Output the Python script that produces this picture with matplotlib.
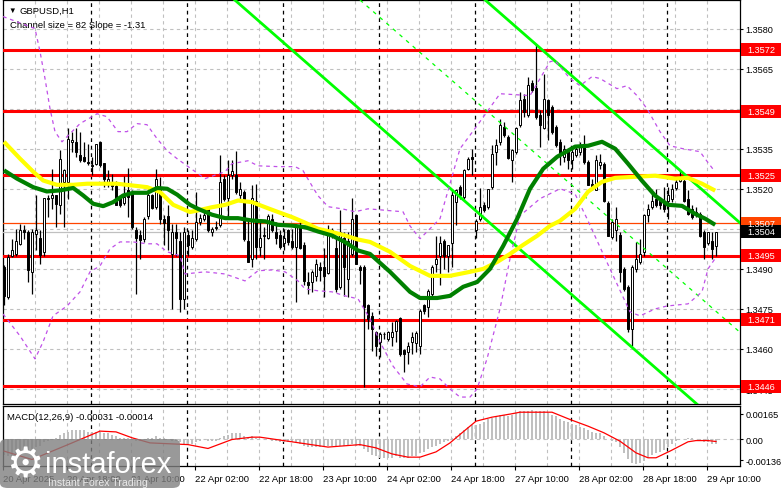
import matplotlib
matplotlib.use('Agg')
import matplotlib.pyplot as plt
import matplotlib.transforms as mtransforms
from matplotlib.patches import Rectangle, FancyBboxPatch
import numpy as np

plt.rcParams['font.family'] = ['Liberation Sans', 'DejaVu Sans']
plt.rcParams['font.size'] = 6.8

# GBPUSD H1 candles, bar 0 = 20 Apr 02:00 ... bar 178 = 29 Apr 12:00
opens = [1.34906, 1.34794, 1.34950, 1.34956, 1.34994, 1.35044, 1.35038, 1.34888, 1.35031, 1.35015,
         1.34963, 1.35165, 1.35165, 1.35175, 1.35138, 1.35225, 1.35225, 1.35375, 1.35375, 1.35328,
         1.35319, 1.35300, 1.35288, 1.35294, 1.35375, 1.35298, 1.35219, 1.35219, 1.35210, 1.35165,
         1.35148, 1.35194, 1.35188, 1.35044, 1.35028, 1.35013, 1.35098, 1.35175, 1.35131, 1.35206,
         1.35088, 1.35098, 1.34956, 1.35040, 1.35006, 1.34788, 1.35028, 1.34981, 1.35013, 1.35075,
         1.35088, 1.35128, 1.35038, 1.35053, 1.35063, 1.35238, 1.35165, 1.35253, 1.35253, 1.35175,
         1.35188, 1.35006, 1.34938, 1.35156, 1.34981, 1.35025, 1.35015, 1.35085, 1.35040, 1.35028,
         1.34998, 1.35044, 1.35006, 1.34981, 1.35063, 1.34988, 1.34850, 1.34850, 1.34875, 1.34906,
         1.34906, 1.34885, 1.35025, 1.34978, 1.34831, 1.35015, 1.34863, 1.34956, 1.35100, 1.34906,
         1.34906, 1.34763, 1.34725, 1.34665, 1.34625, 1.34656, 1.34638, 1.34644, 1.34669, 1.34715,
         1.34598, 1.34588, 1.34625, 1.34623, 1.34613, 1.34763, 1.34756, 1.34806, 1.34919, 1.34950,
         1.35006, 1.34950, 1.34998, 1.35150, 1.35206, 1.35169, 1.35275, 1.35319, 1.35044, 1.35088,
         1.35138, 1.35131, 1.35206, 1.35338, 1.35375, 1.35431, 1.35394, 1.35306, 1.35338, 1.35440,
         1.35538, 1.35475, 1.35598, 1.35578, 1.35475, 1.35428, 1.35531, 1.35506, 1.35431, 1.35375,
         1.35319, 1.35344, 1.35306, 1.35328, 1.35338, 1.35363, 1.35300, 1.35219, 1.35194, 1.35288,
         1.35294, 1.35148, 1.35019, 1.35044, 1.35028, 1.34898, 1.34831, 1.34675, 1.34898, 1.34925,
         1.34963, 1.35100, 1.35131, 1.35163, 1.35160, 1.35156, 1.35156, 1.35163, 1.35203, 1.35231,
         1.35231, 1.35163, 1.35125, 1.35113, 1.35106, 1.35038, 1.34998, 1.35006, 1.34985]
highs = [1.34913, 1.34956, 1.35013, 1.35050, 1.35069, 1.35063, 1.35044, 1.35050, 1.35178, 1.35044,
         1.35165, 1.35178, 1.35273, 1.35178, 1.35344, 1.35275, 1.35428, 1.35413, 1.35428, 1.35413,
         1.35375, 1.35369, 1.35319, 1.35369, 1.35378, 1.35298, 1.35269, 1.35256, 1.35228, 1.35175,
         1.35248, 1.35278, 1.35194, 1.35056, 1.35044, 1.35094, 1.35206, 1.35181, 1.35275, 1.35244,
         1.35100, 1.35138, 1.35069, 1.35069, 1.35038, 1.35056, 1.35044, 1.35044, 1.35188, 1.35106,
         1.35125, 1.35131, 1.35056, 1.35081, 1.35325, 1.35250, 1.35306, 1.35306, 1.35340, 1.35225,
         1.35194, 1.35088, 1.35213, 1.35219, 1.35088, 1.35056, 1.35106, 1.35106, 1.35075, 1.35044,
         1.35050, 1.35050, 1.35050, 1.35069, 1.35081, 1.35000, 1.34888, 1.34894, 1.34938, 1.34925,
         1.34978, 1.35063, 1.35053, 1.35019, 1.35119, 1.35038, 1.35038, 1.35165, 1.35106, 1.34913,
         1.34913, 1.34769, 1.34738, 1.34669, 1.34663, 1.34665, 1.34669, 1.34700, 1.34710, 1.34719,
         1.34600, 1.34625, 1.34663, 1.34669, 1.34750, 1.34770, 1.34825, 1.34913, 1.35025, 1.35025,
         1.35013, 1.34988, 1.35194, 1.35200, 1.35213, 1.35275, 1.35319, 1.35350, 1.35088, 1.35203,
         1.35150, 1.35200, 1.35363, 1.35388, 1.35463, 1.35450, 1.35400, 1.35350, 1.35431, 1.35563,
         1.35556, 1.35619, 1.35606, 1.35744, 1.35494, 1.35631, 1.35538, 1.35513, 1.35438, 1.35388,
         1.35363, 1.35350, 1.35356, 1.35363, 1.35375, 1.35400, 1.35306, 1.35238, 1.35325, 1.35331,
         1.35300, 1.35156, 1.35088, 1.35131, 1.35038, 1.34906, 1.34838, 1.34913, 1.35000, 1.35013,
         1.35106, 1.35144, 1.35188, 1.35198, 1.35169, 1.35206, 1.35206, 1.35219, 1.35238, 1.35269,
         1.35244, 1.35194, 1.35138, 1.35131, 1.35113, 1.35044, 1.35040, 1.35038, 1.35040]
lows = [1.34763, 1.34788, 1.34944, 1.34950, 1.34988, 1.35013, 1.34850, 1.34806, 1.34969, 1.34919,
        1.34950, 1.35094, 1.35125, 1.35056, 1.35106, 1.35056, 1.35163, 1.35338, 1.35319, 1.35300,
        1.35300, 1.35288, 1.35250, 1.35288, 1.35281, 1.35206, 1.35206, 1.35194, 1.35138, 1.35131,
        1.35138, 1.35094, 1.35050, 1.34806, 1.34938, 1.35000, 1.35088, 1.35125, 1.35125, 1.35069,
        1.34988, 1.34969, 1.34750, 1.34950, 1.34738, 1.34750, 1.34950, 1.34975, 1.35006, 1.35063,
        1.35081, 1.35038, 1.35025, 1.35044, 1.35056, 1.35156, 1.35094, 1.35238, 1.35181, 1.35163,
        1.35006, 1.34925, 1.34906, 1.34938, 1.34950, 1.34938, 1.35013, 1.35038, 1.34994, 1.34975,
        1.34969, 1.34988, 1.34975, 1.34775, 1.34975, 1.34838, 1.34806, 1.34813, 1.34856, 1.34856,
        1.34794, 1.34881, 1.35015, 1.34813, 1.34825, 1.34800, 1.34794, 1.34950, 1.34919, 1.34844,
        1.34456, 1.34675, 1.34594, 1.34575, 1.34569, 1.34638, 1.34631, 1.34613, 1.34625, 1.34575,
        1.34515, 1.34544, 1.34581, 1.34588, 1.34581, 1.34730, 1.34719, 1.34800, 1.34888, 1.34838,
        1.34900, 1.34888, 1.34906, 1.35063, 1.35163, 1.35163, 1.35269, 1.35250, 1.35015, 1.35081,
        1.35113, 1.35125, 1.35200, 1.35288, 1.35365, 1.35394, 1.35313, 1.35225, 1.35331, 1.35431,
        1.35469, 1.35469, 1.35563, 1.35463, 1.35356, 1.35425, 1.35381, 1.35406, 1.35356, 1.35288,
        1.35300, 1.35275, 1.35275, 1.35319, 1.35325, 1.35294, 1.35213, 1.35194, 1.35194, 1.35275,
        1.35150, 1.35025, 1.35013, 1.35006, 1.34850, 1.34819, 1.34665, 1.34612, 1.34888, 1.34919,
        1.34950, 1.35075, 1.35125, 1.35131, 1.35125, 1.35113, 1.35088, 1.35150, 1.35194, 1.35225,
        1.35150, 1.35100, 1.35088, 1.35094, 1.35019, 1.34938, 1.34988, 1.34938, 1.34948]
closes = [1.34800, 1.34944, 1.34969, 1.35006, 1.35044, 1.35038, 1.34894, 1.35038, 1.35044, 1.34953,
          1.35165, 1.35163, 1.35178, 1.35144, 1.35313, 1.35269, 1.35388, 1.35381, 1.35338, 1.35306,
          1.35303, 1.35298, 1.35285, 1.35369, 1.35288, 1.35238, 1.35238, 1.35210, 1.35138, 1.35138,
          1.35169, 1.35169, 1.35056, 1.35015, 1.35010, 1.35085, 1.35175, 1.35128, 1.35238, 1.35088,
          1.35073, 1.35044, 1.35038, 1.35015, 1.34788, 1.35038, 1.34988, 1.35015, 1.35075, 1.35090,
          1.35100, 1.35044, 1.35048, 1.35056, 1.35225, 1.35163, 1.35250, 1.35265, 1.35188, 1.35198,
          1.35013, 1.34925, 1.35165, 1.34981, 1.35015, 1.35025, 1.35098, 1.35044, 1.35015, 1.34981,
          1.35015, 1.35000, 1.34981, 1.35060, 1.34978, 1.34853, 1.34838, 1.34888, 1.34919, 1.34894,
          1.34875, 1.35038, 1.35044, 1.34823, 1.35038, 1.34906, 1.35006, 1.35088, 1.34919, 1.34894,
          1.34756, 1.34713, 1.34675, 1.34613, 1.34656, 1.34658, 1.34665, 1.34665, 1.34703, 1.34581,
          1.34581, 1.34613, 1.34644, 1.34660, 1.34744, 1.34744, 1.34819, 1.34906, 1.34938, 1.34998,
          1.34950, 1.34988, 1.35175, 1.35194, 1.35175, 1.35269, 1.35310, 1.35310, 1.35078, 1.35131,
          1.35119, 1.35198, 1.35331, 1.35365, 1.35438, 1.35400, 1.35315, 1.35344, 1.35428, 1.35531,
          1.35488, 1.35588, 1.35569, 1.35469, 1.35438, 1.35538, 1.35478, 1.35413, 1.35363, 1.35325,
          1.35350, 1.35306, 1.35338, 1.35350, 1.35363, 1.35300, 1.35215, 1.35203, 1.35306, 1.35300,
          1.35156, 1.35025, 1.35075, 1.35088, 1.34888, 1.34823, 1.34675, 1.34906, 1.34938, 1.34956,
          1.35100, 1.35125, 1.35156, 1.35140, 1.35140, 1.35125, 1.35175, 1.35198, 1.35225, 1.35244,
          1.35156, 1.35106, 1.35094, 1.35103, 1.35025, 1.34981, 1.35040, 1.34975, 1.35040]

# moving averages (bar, price)
ma_green_bar = [0, 3.25, 7.3, 10.7, 14, 17.3, 19.8, 22.3, 24.8, 27.3, 29.8, 32.3, 35.8, 38.3, 40.8, 43.3,
                46.5, 48.5, 52, 55.3, 58.5, 62, 65.3, 68.5, 72, 75.3, 78.5, 82, 85.3, 88.5, 91.5, 96.5,
                101.5, 104, 108.3, 111.5, 114.8, 118.3, 121.5, 124.8, 128.3, 131.5, 134.8, 138.3, 142.8,
                146, 149.5, 152.8, 156, 159.5, 162.8, 166, 169.5, 172.8, 175.3, 177.8]
ma_green = [1.35269, 1.35238, 1.35206, 1.35190, 1.35194, 1.35203, 1.35175, 1.35144, 1.35135, 1.35150,
            1.35175, 1.35185, 1.35185, 1.35203, 1.35200, 1.35178, 1.35140, 1.35125, 1.35103, 1.35090,
            1.35090, 1.35081, 1.35078, 1.35065, 1.35062, 1.35056, 1.35040, 1.35025, 1.35000, 1.34969,
            1.34956, 1.34889, 1.34814, 1.34791, 1.34791, 1.34799, 1.34833, 1.34851, 1.34900, 1.34986,
            1.35088, 1.35200, 1.35275, 1.35320, 1.35358, 1.35361, 1.35376, 1.35350, 1.35294, 1.35230,
            1.35174, 1.35140, 1.35136, 1.35106, 1.35088, 1.35065]
ma_yellow_bar = [0, 4, 7.3, 9.8, 13.2, 17.3, 20.8, 24, 28.2, 32.3, 35.8, 39, 42.3, 46.5, 48.5, 52, 55.3,
                 58.5, 62, 65.3, 68.5, 72, 75.3, 78.5, 82, 85.3, 88.5, 91.5, 96.5, 101.5, 106.5, 111.5,
                 116.5, 119.8, 123.3, 126.5, 129.8, 133.3, 136.5, 139, 142.8, 146, 149.5, 152.8, 157.8,
                 162.8, 167.8, 171, 174.5, 177.8]
ma_yellow = [1.35376, 1.35313, 1.35264, 1.35231, 1.35215, 1.35215, 1.35219, 1.35219, 1.35219, 1.35212,
             1.35206, 1.35188, 1.35140, 1.35113, 1.35119, 1.35131, 1.35140, 1.35156, 1.35150, 1.35131,
             1.35113, 1.35094, 1.35073, 1.35050, 1.35038, 1.35025, 1.35010, 1.35001, 1.34964, 1.34911,
             1.34874, 1.34874, 1.34889, 1.34900, 1.34926, 1.34956, 1.34990, 1.35024, 1.35061, 1.35080,
             1.35125, 1.35189, 1.35226, 1.35241, 1.35245, 1.35249, 1.35238, 1.35241, 1.35219, 1.35193]

# envelope bands (dashed violet)
band_up_bar = [-0.25, 7.75, 9, 10.25, 11.5, 12.75, 14.5, 17, 19, 22, 23.25, 25.75, 28.5, 30.75, 33.25,
               35.75, 38.25, 40.75, 43.25, 45.75, 50.25, 55.25, 57, 61, 63.5, 68.5, 72.75, 74.75, 77,
               78.5, 81, 84.5, 87.75, 91, 96.5, 99.75, 101.5, 104, 109, 114, 118.25, 124, 131.5, 136.5,
               137.75, 141.5, 144, 147, 149, 153.25, 155.75, 158.25, 160.75, 164, 166.5, 169.75, 174,
               175.25, 177.75]
band_up = [1.35845, 1.35800, 1.35714, 1.35613, 1.35500, 1.35414, 1.35376, 1.35414, 1.35444, 1.35470,
           1.35481, 1.35470, 1.35414, 1.35414, 1.35444, 1.35440, 1.35388, 1.35343, 1.35313, 1.35286,
           1.35238, 1.35264, 1.35294, 1.35305, 1.35286, 1.35283, 1.35283, 1.35268, 1.35211, 1.35174,
           1.35133, 1.35125, 1.35114, 1.35125, 1.35118, 1.35114, 1.35061, 1.35013, 1.35088, 1.35350,
           1.35436, 1.35556, 1.35549, 1.35676, 1.35680, 1.35613, 1.35586, 1.35620, 1.35613, 1.35575,
           1.35586, 1.35549, 1.35500, 1.35414, 1.35361, 1.35350, 1.35339, 1.35313, 1.35264]
band_dn_bar = [-0.25, 4, 7.75, 9.75, 12.25, 15.75, 19, 21.5, 24, 26.5, 29, 32.25, 35.75, 38.25, 40.75,
               44, 45.25, 50.25, 55.25, 60.25, 63.5, 67, 70.25, 73.5, 75.25, 78.5, 82, 85.25, 88.5,
               91.5, 94, 97.25, 100.75, 104, 106.5, 109, 111.5, 114, 116.5, 118.25, 120.75, 124, 126.5,
               129, 134, 139, 142.75, 145.75, 151.5, 156.5, 159, 162.75, 165.75, 171, 174.5, 176, 177.75]
band_dn = [1.34731, 1.34649, 1.34563, 1.34626, 1.34724, 1.34761, 1.34814, 1.34889, 1.34911, 1.34975,
           1.35001, 1.35001, 1.34994, 1.34994, 1.34964, 1.34949, 1.34881, 1.34889, 1.34881, 1.34855,
           1.34893, 1.34896, 1.34889, 1.34855, 1.34825, 1.34818, 1.34814, 1.34799, 1.34788, 1.34713,
           1.34626, 1.34536, 1.34469, 1.34458, 1.34495, 1.34488, 1.34450, 1.34420, 1.34420, 1.34450,
           1.34563, 1.34750, 1.34938, 1.35099, 1.35163, 1.35200, 1.35181, 1.35088, 1.34900, 1.34739,
           1.34724, 1.34750, 1.34761, 1.34769, 1.34814, 1.34900, 1.34938]

# MACD(12,26,9): histogram per bar and signal line
macd_hist = [-0.0010, -0.0011, -0.0011, -0.0010, -0.0009, -0.0008, -0.0007, -0.0006, -0.0005, -0.0004,
             -0.0002, -0.0001, 0.0000, 0.0001, 0.0003, 0.0004, 0.0005, 0.0006, 0.0006, 0.0006,
             0.0006, 0.0005, 0.0005, 0.0005, 0.0005, 0.0004, 0.0004, 0.0003, 0.0002, 0.0001,
             0.0001, 0.0001, 0.0000, -0.0001, -0.0001, 0.0000, 0.0001, 0.0001, 0.0002, 0.0001,
             0.0001, 0.0000, -0.0001, -0.0001, -0.0002, -0.0003, -0.0003, -0.0003, -0.0002, -0.0001,
             0.0000, -0.0001, -0.0001, -0.0001, 0.0001, 0.0002, 0.0003, 0.0004, 0.0004, 0.0004,
             0.0002, 0.0001, 0.0002, 0.0001, 0.0000, 0.0000, 0.0000, -0.0001, -0.0001, -0.0002,
             -0.0002, -0.0002, -0.0002, -0.0002, -0.0003, -0.0004, -0.0005, -0.0005, -0.0005, -0.0005,
             -0.0005, -0.0004, -0.0004, -0.0005, -0.0004, -0.0004, -0.0004, -0.0003, -0.0004, -0.0004,
             -0.0006, -0.0008, -0.0010, -0.0011, -0.0012, -0.0012, -0.0012, -0.0012, -0.0011, -0.0012,
             -0.0012, -0.0012, -0.0011, -0.0011, -0.0009, -0.0008, -0.0006, -0.0005, -0.0004, -0.0003,
             -0.0002, -0.0001, 0.0001, 0.0002, 0.0004, 0.0006, 0.0008, 0.0009, 0.0009, 0.0010,
             0.0011, 0.0013, 0.0014, 0.0015, 0.0016, 0.0016, 0.0015, 0.0016, 0.0017, 0.0018,
             0.0018, 0.0018, 0.0019, 0.0018, 0.0018, 0.0018, 0.0017, 0.0016, 0.0015, 0.0013,
             0.0012, 0.0011, 0.0010, 0.0009, 0.0008, 0.0007, 0.0006, 0.0005, 0.0004, 0.0004,
             0.0002, 0.0000, -0.0001, -0.0002, -0.0005, -0.0009, -0.0013, -0.0015, -0.0016, -0.0015,
             -0.0014, -0.0012, -0.0010, -0.0009, -0.0008, -0.0007, -0.0005, -0.0003, -0.0001, 0.0000,
             0.0000, 0.0001, 0.0001, 0.0000, -0.0001, -0.0002, -0.0002, -0.0003, -0.00031]
macd_sig_bar = [0, 7, 16, 24, 28, 32, 36.5, 46, 51, 57, 62, 64, 72, 81, 89, 93, 97, 101, 104, 108,
                111.5, 115, 118, 122, 127, 129, 137, 141.5, 146, 150, 154, 158, 161, 163, 166.5, 171,
                173, 176, 178]
macd_sig = [-0.00076, -0.00130, -0.00034, 0.00053, 0.00048, 0.00010, -0.00023, -0.00034, -0.00059,
            -0.00001, 0.00014, 0.00014, -0.00016, -0.00050, -0.00034, -0.00055, -0.00094, -0.00115,
            -0.00115, -0.00081, -0.00023, 0.00053, 0.00117, 0.00143, 0.00165, 0.00175, 0.00175,
            0.00128, 0.00085, 0.00042, -0.00012, -0.00087, -0.00119, -0.00119, -0.00076, -0.00016,
            -0.00008, -0.00008, -0.00014]

# horizontal levels and linear regression channel
levels = [1.3572, 1.3549, 1.3525, 1.3495, 1.3471, 1.3446]
level_orange = 1.3507
bid = 1.3504
channel_size = 82      # pips
channel_slope = -1.31  # pips per bar
channel_top_ref = (129, 1.35793)

price_ticks = [1.3580, 1.3565, 1.3550, 1.3535, 1.3520, 1.3505, 1.3490, 1.3475, 1.3460, 1.3445]
hidden_ticks = [1.3550, 1.3505]   # covered by the level tags
macd_ticks = [0.00165, 0.0, -0.00136]
macd_tick_labels = ['0.00165', '0.00', '-0.00136']
day_starts = [22, 46, 70, 94, 118, 142, 166]
date_ticks = [0, 16, 32, 48, 64, 80, 96, 112, 128, 144, 160, 176]
date_labels = ['20 Apr 2025', '20 Apr 18:00', '21 Apr 10:00', '22 Apr 02:00', '22 Apr 18:00',
               '23 Apr 10:00', '24 Apr 02:00', '24 Apr 18:00', '27 Apr 10:00', '28 Apr 02:00',
               '28 Apr 18:00', '29 Apr 10:00']

W, H = 781, 489
fig = plt.figure(figsize=(W / 100, H / 100), dpi=100)


def px_box(x0, y0, x1, y1):
    return [x0 / W, 1 - y1 / H, (x1 - x0) / W, (y1 - y0) / H]


ax = fig.add_axes(px_box(3, 1, 740, 405))
axm = fig.add_axes(px_box(3, 407, 740, 467))

grid_kw = dict(color='#c0c0c0', lw=0.8, ls=(0, (3, 3)))
for a in (ax, axm):
    a.set_xlim(-0.25, 184)
    for s in a.spines.values():
        s.set_linewidth(0.9)
        s.set_color('black')
    for k in range(0, 184, 8):
        a.axvline(k - 0.25, zorder=0, **grid_kw)
    for d in day_starts:
        a.axvline(d - 0.25, color='black', lw=0.9, ls=(0, (3, 3)), zorder=1)
    a.yaxis.tick_right()
    a.tick_params(axis='y', length=2.5, width=0.8, pad=1.5, labelsize=6.6)

ax.set_ylim(1.34394, 1.35907)
ax.set_yticks(price_ticks)
ax.set_yticklabels(['' if p in hidden_ticks else f'{p:.4f}' for p in price_ticks])
for p in price_ticks:
    ax.axhline(p, zorder=0, **grid_kw)
ax.set_xticks([])

# candles
idx = np.arange(len(closes))
o = np.array(opens)
c = np.array(closes)
up = c >= o
ax.vlines(idx, lows, highs, color='black', lw=0.9, zorder=4)
body_lo = np.minimum(o, c)
body_h = np.maximum(np.abs(c - o), 0.00002)
ax.bar(idx, body_h, bottom=body_lo, width=0.72,
       color=np.where(up, 'white', 'black'), edgecolor='black', lw=0.7, zorder=5)

# levels
for lv in levels:
    ax.axhline(lv, color='red', lw=2.2, zorder=3)
ax.axhline(level_orange, color='#ff4500', lw=0.9, zorder=3)
ax.axhline(bid, color='#c0c0c0', lw=0.9, zorder=3)

# channel
k = channel_slope / 10000
x0, p0 = channel_top_ref
ax.axline((x0, p0), slope=k, color='#00ff00', lw=2, zorder=6)
ax.axline((x0, p0 - channel_size / 10000), slope=k, color='#00ff00', lw=2, zorder=6)
ax.axline((x0, p0 - channel_size / 20000), slope=k, color='#00ff00', lw=0.9,
          ls=(0, (3, 4)), zorder=6)

# bands and moving averages
ax.plot(band_up_bar, band_up, color='#c050e8', lw=0.9, ls=(0, (3, 3)), zorder=6)
ax.plot(band_dn_bar, band_dn, color='#c050e8', lw=0.9, ls=(0, (3, 3)), zorder=6)
ax.plot(ma_yellow_bar, ma_yellow, color='#ffff00', lw=3, zorder=7, solid_capstyle='butt')
ax.plot(ma_green_bar, ma_green, color='#008000', lw=3, zorder=7, solid_capstyle='butt')

# price labels on the right
trans = mtransforms.blended_transform_factory(ax.transAxes, ax.transData)
box_w = 40 / 737
box_h = 13 * (1.35907 - 1.34394) / 404


def price_tag(val, fc, txt='white'):
    ax.add_patch(Rectangle((1.0015, val - box_h / 2), box_w, box_h, transform=trans,
                           facecolor=fc, edgecolor='none', clip_on=False, zorder=9))
    ax.text(1.0015 + box_w / 2, val, f'{val:.4f}', transform=trans, color=txt,
            ha='center', va='center', fontsize=6.6, clip_on=False, zorder=10)


for lv in levels:
    price_tag(lv, 'red')
price_tag(level_orange, '#ff4500')
price_tag(bid, 'black')

ax.text(0.007, 0.975, '\u25bc', transform=ax.transAxes, fontsize=5.5, va='center')
ax.text(0.022, 0.975, 'GBPUSD,H1', transform=ax.transAxes, fontsize=6.8, va='center')
ax.text(0.010, 0.94, 'Channel size = %d Slope = %.2f' % (channel_size, channel_slope),
        transform=ax.transAxes, fontsize=6.8, va='center')

# MACD panel
axm.set_ylim(-0.00172, 0.00215)
axm.bar(idx, macd_hist, width=0.7, color='#c0c0c0', zorder=2)
axm.plot(macd_sig_bar, macd_sig, color='red', lw=0.9, zorder=3)
axm.axhline(0, zorder=1, **grid_kw)
axm.set_yticks(macd_ticks)
axm.set_yticklabels(macd_tick_labels)
axm.set_xticks([t - 0.25 for t in date_ticks])
axm.set_xticklabels(date_labels, ha='left')
axm.tick_params(axis='x', length=3, width=0.8, pad=3, labelsize=6.8)
axm.text(0.006, 0.83, 'MACD(12,26,9) %.5f %.5f' % (macd_hist[-1], macd_sig[-1]),
         transform=axm.transAxes, fontsize=6.8, va='center')

# instaforex watermark
fig.add_artist(FancyBboxPatch((0, 0), 180 / W, 49 / H, boxstyle='round,pad=0,rounding_size=0.01',
                              transform=fig.transFigure, facecolor='#808080', edgecolor='none',
                              alpha=0.8, zorder=5))
fig.text(25 / W, 1 - 465 / H, '\u2699', family=['DejaVu Sans'], fontsize=30, color='white',
         ha='center', va='center', zorder=6)
fig.text(45 / W, 1 - 473 / H, 'instaforex', fontsize=21, color='white', ha='left',
         va='baseline', zorder=6)
fig.text(48 / W, 1 - 486 / H, 'Instant Forex Trading', fontsize=7.6, color='#e8e8e8',
         ha='left', va='baseline', zorder=6)

fig.savefig('out.png', dpi=100)
